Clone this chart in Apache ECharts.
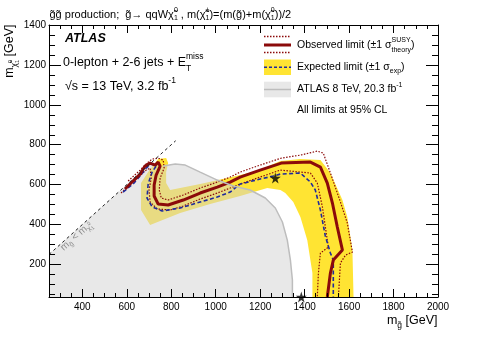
<!DOCTYPE html>
<html>
<head>
<meta charset="UTF-8">
<title>Gluino exclusion limit</title>
<style>
  html, body { margin: 0; padding: 0; background: #fff; }
  #chart { width: 498px; height: 338px; }
</style>
</head>
<body>
<div id="chart"></div>
<script src="https://cdn.jsdelivr.net/npm/echarts@6/dist/echarts.min.js"></script>
<script>
// axes (GeV)
const xRange = [250, 2000];
const yRange = [37, 1400];
const xTicks = [400, 600, 800, 1000, 1200, 1400, 1600, 1800, 2000];
const yTicks = [200, 400, 600, 800, 1000, 1200, 1400];

// observed limit
const obsX = [592, 628, 660, 682, 705, 728, 741, 750, 732, 723, 723, 741, 786, 854, 930, 1007, 1065, 1110, 1200, 1295, 1426, 1471, 1502, 1525, 1547, 1570, 1529, 1516, 1502];
const obsY = [578, 618, 653, 693, 708, 698, 713, 693, 648, 598, 543, 503, 498, 523, 558, 588, 613, 638, 673, 708, 713, 688, 608, 508, 388, 272, 222, 157, 37];
// observed +1 sigma theory
const obsUpX = [606, 660, 691, 714, 741, 764, 768, 750, 746, 755, 786, 854, 930, 1007, 1065, 1110, 1200, 1295, 1381, 1457, 1484, 1516, 1561, 1592, 1615, 1584, 1561, 1552];
const obsUpY = [618, 673, 708, 728, 733, 723, 683, 633, 573, 533, 523, 548, 583, 613, 638, 663, 698, 733, 748, 768, 758, 658, 513, 408, 262, 247, 207, 37];
// observed -1 sigma theory
const obsDnX = [574, 637, 687, 705, 710, 700, 705, 737, 795, 854, 930, 1007, 1065, 1110, 1200, 1291, 1426, 1457, 1480, 1502, 1507, 1471, 1462, 1457];
const obsDnY = [558, 623, 673, 683, 633, 573, 513, 478, 473, 493, 528, 558, 583, 603, 638, 673, 658, 608, 488, 322, 287, 257, 157, 37];
// expected limit
const expX = [583, 628, 660, 687, 710, 732, 714, 696, 691, 714, 759, 840, 930, 1007, 1065, 1110, 1200, 1259, 1291, 1381, 1426, 1448, 1471, 1493, 1516, 1529, 1529];
const expY = [563, 603, 643, 683, 703, 693, 663, 603, 533, 488, 468, 483, 513, 538, 563, 603, 628, 643, 653, 658, 613, 573, 473, 343, 257, 222, 37];
// expected +-1 sigma band outline
const bandX = [664, 696, 728, 741, 777, 786, 777, 777, 795, 840, 930, 1052, 1187, 1291, 1381, 1471, 1516, 1570, 1592, 1615, 1620, 1435, 1435, 1412, 1381, 1349, 1313, 1291, 1232, 1110, 975, 840, 705, 664];
const bandY = [608, 663, 708, 728, 733, 708, 663, 608, 573, 583, 603, 633, 668, 718, 728, 723, 658, 523, 438, 272, 37, 37, 157, 322, 438, 513, 558, 573, 583, 543, 503, 458, 398, 473];
// ATLAS 8 TeV limit edge
const run1X = [764, 818, 863, 930, 1007, 1079, 1155, 1223, 1268, 1300, 1322, 1336, 1345, 1345];
const run1Y = [693, 703, 698, 663, 623, 593, 573, 533, 483, 413, 322, 222, 122, 37];
const run1CornerX = [250, 250, 700, 735];
const run1CornerY = [37, 250, 700, 703];
// kinematic limit m(gluino) = m(LSP)
const diagX = [250, 820];
// benchmark stars
const starX = [1268, 1385];
const starY = [633, 37];

const FF = '"Liberation Sans", Arial, Helvetica, sans-serif';
const RED = '#8b0a0a', BLUE = '#1f2a9c', YEL = '#ffe433';

const ctx = document.createElement('canvas').getContext('2d');
function fontOf(p, base) {
  return (p.i ? 'italic ' : '') + (p.b ? 'bold ' : '') + (p.s || base) + 'px ' + FF;
}
function runWidth(parts, base) {
  let cx = 0, held = 0;
  parts.forEach(p => {
    ctx.font = fontOf(p, base);
    const wd = ctx.measureText(p.t).width;
    if (p.hold) held = Math.max(held, wd); else { cx += Math.max(held, wd); held = 0; }
  });
  return cx;
}
// lay out text with sub/superscripts as separate text pieces
function run(x, y, parts, base, color) {
  let cx = x, held = 0;
  return parts.map(p => {
    ctx.font = fontOf(p, base);
    const wd = ctx.measureText(p.t).width;
    const el = {
      type: 'text', x: cx, y: y + (p.dy || 0), silent: true,
      style: {
        text: p.t, fill: color || '#000',
        fontFamily: FF, fontSize: p.s || base,
        fontWeight: p.b ? 'bold' : 'normal', fontStyle: p.i ? 'italic' : 'normal',
        textVerticalAlign: 'middle', verticalAlign: 'middle'
      }
    };
    if (p.hold) held = Math.max(held, wd); else { cx += Math.max(held, wd); held = 0; }
    return el;
  });
}

const pts = (xs, ys) => xs.map((x, i) => [x, ys[i]]);

function polySeries(xs, ys, style) {
  return {
    type: 'custom', coordinateSystem: 'cartesian2d', silent: true, clip: true,
    data: [[xs[0], ys[0]]],
    renderItem: (params, api) => ({
      type: 'polygon',
      shape: { points: xs.map((x, i) => api.coord([x, ys[i]])) },
      style: style
    })
  };
}
function lineSeries(xs, ys, color, width, dash) {
  return {
    type: 'line', data: pts(xs, ys), symbol: 'none', silent: true,
    lineStyle: { color: color, width: width, type: dash || 'solid' }
  };
}

const minorOf = (lo, hi, step, majors) => {
  const out = [];
  for (let v = lo; v <= hi; v += step) if (!majors.includes(v)) out.push(v);
  return out;
};
const xMinor = minorOf(300, 2000, 50, xTicks);
const yMinor = minorOf(50, 1400, 50, yTicks);

function axis(kind, pos, ticks, len, labels, line) {
  const range = kind === 'x' ? xRange : yRange;
  return {
    type: 'value', min: range[0], max: range[1], position: pos, z: 10,
    axisLine: { show: line, onZero: false, lineStyle: { color: '#000', width: 1 } },
    axisTick: { show: true, inside: true, length: len, customValues: ticks, lineStyle: { color: '#000', width: 1 } },
    axisLabel: labels ? {
      customValues: ticks, margin: kind === 'x' ? 5 : 3, formatter: v => String(v),
      fontFamily: FF, fontSize: 10, color: '#000'
    } : { show: false },
    splitLine: { show: false }
  };
}

const chart = echarts.init(document.getElementById('chart'));

const xTitleParts = [{ t: 'm' }, { t: 'g\u0303', s: 8.5, dy: 5 }, { t: ' [GeV]' }];
const yTitleParts = [{ t: 'm' }, { t: '\u03c7\u0303', s: 8.5, dy: 4.5 }, { t: '0', s: 5.5, dy: 0.5, hold: true }, { t: '1', s: 5.5, dy: 7.5 }, { t: ' [GeV]' }];

const graphics = [
  // title
  ...run(49.5, 14.5, [
    { t: 'g\u0303g\u0303 production;  g\u0303\u2192 qqW\u03c7\u0303' },
    { t: '0', s: 7, dy: -4.5, hold: true }, { t: '1', s: 7, dy: 4 },
    { t: ' , m(\u03c7\u0303' },
    { t: '\u00b1', s: 7, dy: -4.5, hold: true }, { t: '1', s: 7, dy: 4 },
    { t: ')=(m(g\u0303)+m(\u03c7\u0303' },
    { t: '0', s: 7, dy: -4.5, hold: true }, { t: '1', s: 7, dy: 4 },
    { t: '))/2' }
  ], 11),
  // left labels
  ...run(65, 39, [{ t: 'ATLAS', b: true, i: true }], 12.5),
  ...run(63, 63, [{ t: '0-lepton + 2-6 jets + E' }, { t: 'miss', s: 8.5, dy: -6, hold: true }, { t: 'T', s: 8.5, dy: 6 }], 12.5),
  ...run(65, 87, [{ t: '\u221as = 13 TeV, 3.2 fb' }, { t: '-1', s: 8.5, dy: -6 }], 12.5),
  // legend symbols
  { type: 'line', silent: true, shape: { x1: 264, y1: 36.5, x2: 291, y2: 36.5 }, style: { stroke: RED, lineWidth: 1.3, lineDash: [1.5, 1.5] } },
  { type: 'line', silent: true, shape: { x1: 264, y1: 45, x2: 291, y2: 45 }, style: { stroke: RED, lineWidth: 3 } },
  { type: 'line', silent: true, shape: { x1: 264, y1: 52.5, x2: 291, y2: 52.5 }, style: { stroke: RED, lineWidth: 1.3, lineDash: [1.5, 1.5] } },
  { type: 'rect', silent: true, shape: { x: 264, y: 59.5, width: 27, height: 15.5 }, style: { fill: YEL } },
  { type: 'line', silent: true, shape: { x1: 264, y1: 67.3, x2: 291, y2: 67.3 }, style: { stroke: BLUE, lineWidth: 1.6, lineDash: [3, 2] } },
  { type: 'rect', silent: true, shape: { x: 264, y: 81.7, width: 27, height: 15.6 }, style: { fill: '#e8e8e8' } },
  { type: 'line', silent: true, shape: { x1: 264, y1: 89.5, x2: 291, y2: 89.5 }, style: { stroke: '#bdbdbd', lineWidth: 1.5 } },
  // legend texts
  ...run(297, 45, [{ t: 'Observed limit (\u00b11 \u03c3' }, { t: 'SUSY', s: 7, dy: -4.5, hold: true }, { t: 'theory', s: 7, dy: 5.5 }, { t: ')' }], 10.5),
  ...run(297, 67.5, [{ t: 'Expected limit (\u00b11 \u03c3' }, { t: 'exp', s: 7, dy: 4 }, { t: ')' }], 10.5),
  ...run(297, 89.5, [{ t: 'ATLAS 8 TeV, 20.3 fb' }, { t: '-1', s: 7, dy: -4.5 }], 10.5),
  ...run(297, 110.5, [{ t: 'All limits at 95% CL' }], 10.5),
  // axis titles
  ...run(437.5 - runWidth(xTitleParts, 12.5), 321, xTitleParts, 12.5),
  { type: 'group', x: 10, y: 24.5, rotation: Math.PI / 2, children: run(-runWidth(yTitleParts, 12.5), 0, yTitleParts, 12.5) },
  // kinematic limit label
  { type: 'group', x: 62, y: 249, rotation: 0.733, children: run(0, 0, [
    { t: 'm' }, { t: 'g\u0303', s: 7, dy: 3 }, { t: ' < m' }, { t: '\u03c7\u0303', s: 7, dy: 3 },
    { t: '0', s: 5, dy: -1, hold: true }, { t: '1', s: 5, dy: 5 }
  ], 10, '#444') }
];

chart.setOption({
  animation: false,
  backgroundColor: '#fff',
  grid: { left: 49, right: 60, top: 25, bottom: 41, outerBoundsMode: 'none' },
  xAxis: [
    axis('x', 'bottom', xTicks, 8, true, true),
    axis('x', 'bottom', xMinor, 4, false, false),
    axis('x', 'top', xTicks, 8, false, true),
    axis('x', 'top', xMinor, 4, false, false)
  ],
  yAxis: [
    axis('y', 'left', yTicks, 12, true, true),
    axis('y', 'left', yMinor, 6, false, false),
    axis('y', 'right', yTicks, 12, false, true),
    axis('y', 'right', yMinor, 6, false, false)
  ],
  series: [
    polySeries(bandX, bandY, { fill: YEL }),
    lineSeries(obsUpX, obsUpY, RED, 1.2, [1.5, 1.5]),
    lineSeries(obsDnX, obsDnY, RED, 1.2, [1.5, 1.5]),
    lineSeries(expX, expY, BLUE, 1.6, [4, 2.5]),
    lineSeries(obsX, obsY, RED, 3),
    polySeries(run1CornerX.concat(run1X), run1CornerY.concat(run1Y), { fill: 'rgba(209,209,209,0.5)' }),
    lineSeries(run1X, run1Y, '#bdbdbd', 1.5),
    lineSeries(diagX, diagX, '#222', 1, [3, 3]),
    {
      type: 'scatter', data: pts(starX, starY), clip: false, silent: true, z: 12,
      symbol: 'path://M50,0 L61,35 L98,35 L68,57 L79,91 L50,70 L21,91 L32,57 L2,35 L39,35 Z',
      symbolSize: 11, itemStyle: { color: '#000' }
    }
  ],
  graphic: graphics
});
</script>
</body>
</html>
